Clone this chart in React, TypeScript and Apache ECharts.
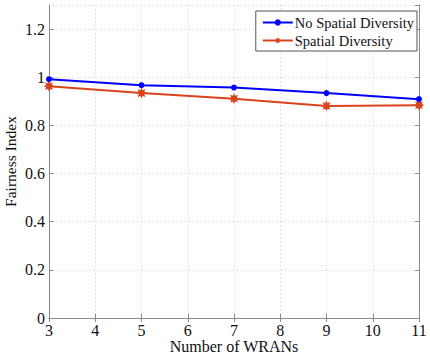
import React, { useEffect, useRef } from "react";
import * as echarts from "echarts";

// Number of WRANs on the x axis
const wrans = [3, 5, 7, 9, 11];
// Fairness index per scheme
const noSpatialDiversity = [0.992, 0.967, 0.957, 0.934, 0.909];
const spatialDiversity = [0.963, 0.934, 0.911, 0.881, 0.884];

const xTicks = [3, 4, 5, 6, 7, 8, 9, 10, 11];
const yTicks = [0, 0.2, 0.4, 0.6, 0.8, 1, 1.2];

const FONT = "'Liberation Serif', 'Times New Roman', serif";

// eight-pointed star used as the asterisk marker
function starPath(points: number, outer: number, inner: number): string {
  const parts: string[] = [];
  for (let i = 0; i < points * 2; i++) {
    const r = i % 2 === 0 ? outer : inner;
    const a = (Math.PI * i) / points - Math.PI / 2;
    const x = (10 + r * Math.cos(a)).toFixed(2);
    const y = (10 + r * Math.sin(a)).toFixed(2);
    parts.push((i === 0 ? "M" : "L") + x + " " + y);
  }
  return "path://" + parts.join(" ") + " Z";
}

export default function App() {
  const ref = useRef<HTMLDivElement>(null);

  useEffect(() => {
    if (!ref.current) return;
    const chart = echarts.init(ref.current, undefined, { renderer: "svg" });
    const axisColor = "#8a8a8a";
    const gridLine = {
      show: true,
      lineStyle: { color: "#cfcfcf", type: [1, 3] as any, width: 1 },
    };
    const blue = "#0000ff";
    const red = "#d9441c";

    chart.setOption({
      animation: false,
      backgroundColor: "#ffffff",
      textStyle: { fontFamily: FONT },
      grid: {
        left: 49,
        right: 11,
        top: 5,
        bottom: 36,
        containLabel: false,
        outerBoundsMode: "none",
      },
      legend: {
        orient: "vertical",
        right: 13,
        top: 11,
        padding: [4, 3, 3, 6],
        itemGap: 3,
        itemWidth: 30,
        itemHeight: 8,
        borderColor: "#555",
        borderWidth: 1,
        backgroundColor: "#fff",
        textStyle: { fontFamily: FONT, fontSize: 14.5, color: "#111", padding: [0, 0, 0, -3] },
        data: ["No Spatial Diversity", "Spatial Diversity"],
      },
      xAxis: [
        {
          type: "value",
          min: 3,
          max: 11,
          interval: 1,
          name: "Number of WRANs",
          nameLocation: "middle",
          nameGap: 20,
          nameMoveOverlap: false,
          nameTextStyle: { fontFamily: FONT, fontSize: 16, color: "#111" },
          axisLine: { lineStyle: { color: axisColor } },
          axisTick: { inside: true, length: 4, lineStyle: { color: axisColor } },
          axisLabel: {
            fontFamily: FONT,
            fontSize: 16,
            color: "#111",
            margin: 4,
            customValues: xTicks,
          },
          splitLine: gridLine,
        },
        {
          type: "value",
          position: "top",
          min: 3,
          max: 11,
          interval: 1,
          axisLine: { lineStyle: { color: axisColor } },
          axisTick: { inside: true, length: 4, lineStyle: { color: axisColor } },
          axisLabel: { show: false },
          splitLine: { show: false },
        },
      ],
      yAxis: [
        {
          type: "value",
          min: 0,
          max: 1.3,
          interval: 0.2,
          name: "Fairness Index",
          nameLocation: "middle",
          nameGap: 31,
          nameMoveOverlap: false,
          nameTextStyle: { fontFamily: FONT, fontSize: 15.5, color: "#111" },
          axisLine: { show: true, lineStyle: { color: axisColor } },
          axisTick: { inside: true, length: 4, lineStyle: { color: axisColor } },
          axisLabel: {
            fontFamily: FONT,
            fontSize: 16,
            color: "#111",
            margin: 4,
            showMaxLabel: false,
            formatter: (v: number) => {
              const hit = yTicks.find((t) => Math.abs(t - v) < 1e-6);
              return hit === undefined ? "" : String(Math.round(hit * 10) / 10);
            },
          },
          splitLine: gridLine,
        },
        {
          type: "value",
          position: "right",
          min: 0,
          max: 1.3,
          interval: 0.2,
          axisLine: { show: true, lineStyle: { color: axisColor } },
          axisTick: { inside: true, length: 4, lineStyle: { color: axisColor } },
          axisLabel: { show: false },
          splitLine: { show: false },
        },
      ],
      series: [
        {
          name: "No Spatial Diversity",
          type: "line",
          data: wrans.map((x, i) => [x, noSpatialDiversity[i]]),
          symbol: "circle",
          symbolSize: 6,
          lineStyle: { color: blue, width: 2 },
          itemStyle: { color: blue },
          z: 3,
        },
        {
          name: "Spatial Diversity",
          type: "line",
          data: wrans.map((x, i) => [x, spatialDiversity[i]]),
          symbol: starPath(8, 10, 5.5),
          symbolSize: 11,
          lineStyle: { color: red, width: 2 },
          itemStyle: { color: red },
          z: 2,
        },
      ],
    });
    return () => chart.dispose();
  }, []);

  return <div ref={ref} style={{ width: 430, height: 354, position: "absolute", left: 0, top: 0 }} />;
}
